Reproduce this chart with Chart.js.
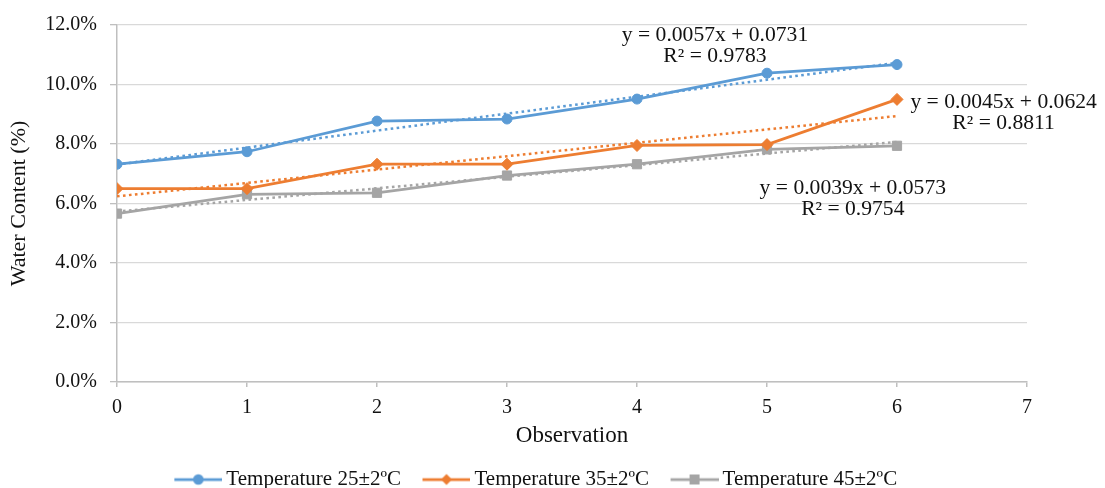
<!DOCTYPE html>
<html>
<head>
<meta charset="utf-8">
<script src="https://cdn.jsdelivr.net/npm/chart.js@4.4.1/dist/chart.umd.min.js"></script>
<style>
  html, body { margin: 0; padding: 0; background: #ffffff; overflow: hidden; width: 1105px; height: 488px; }
  canvas { display: block; }
</style>
</head>
<body>
<canvas id="chart" width="1105" height="500"></canvas>
<script>
// ---- Data ----
const observations = [0, 1, 2, 3, 4, 5, 6];
const seriesNames = ['Temperature 25±2ºC', 'Temperature 35±2ºC', 'Temperature 45±2ºC'];
const temp25 = [7.32, 7.74, 8.77, 8.84, 9.51, 10.38, 10.67];
const temp35 = [6.50, 6.50, 7.32, 7.32, 7.95, 7.98, 9.50];
const temp45 = [5.66, 6.31, 6.36, 6.94, 7.32, 7.82, 7.94];
// Trendline end points (at observation 0 and 6)
const trendX = [0, 6];
const trend25 = [7.31, 10.73];
const trend35 = [6.24, 8.94];
const trend45 = [5.73, 8.07];
const trendLabels = [
  ['y = 0.0057x + 0.0731', 'R² = 0.9783'],
  ['y = 0.0045x + 0.0624', 'R² = 0.8811'],
  ['y = 0.0039x + 0.0573', 'R² = 0.9754']
];
const yTicksMax = 12;
const yTicksStep = 2;
const xTicksMax = 7;

// ---- Styles ----
const colors = ['#5B9BD5', '#ED7D31', '#A5A5A5'];
const markers = ['circle', 'rectRot', 'rect'];
const markerRadius = [5, 6, 6.5];
const FONT = "'Liberation Serif', 'Times New Roman', serif";
const TEXT = '#111111';

function pts(xs, ys) { return xs.map((x, i) => ({ x: x, y: ys[i] })); }

function legendImage(i) {
  const c = document.createElement('canvas');
  c.width = 66; c.height = 16;
  const g = c.getContext('2d');
  g.strokeStyle = colors[i];
  g.fillStyle = colors[i];
  g.lineWidth = 2.75;
  g.beginPath(); g.moveTo(18, 8); g.lineTo(66, 8); g.stroke();
  const cx = 42, cy = 8;
  g.beginPath();
  if (markers[i] === 'circle') {
    g.arc(cx, cy, 5.3, 0, Math.PI * 2);
  } else if (markers[i] === 'rectRot') {
    g.moveTo(cx, cy - 5.5); g.lineTo(cx + 5.5, cy); g.lineTo(cx, cy + 5.5); g.lineTo(cx - 5.5, cy); g.closePath();
  } else {
    g.rect(cx - 5, cy - 5, 10, 10);
  }
  g.fill();
  return c;
}
const legendImages = [0, 1, 2].map(legendImage);

const seriesData = [temp25, temp35, temp45];
const trendData = [trend25, trend35, trend45];

const datasets = [];
seriesData.forEach((vals, i) => {
  datasets.push({
    label: seriesNames[i],
    data: pts(observations, vals),
    borderColor: colors[i],
    backgroundColor: colors[i],
    borderWidth: 2.75,
    pointStyle: markers[i],
    pointRadius: markerRadius[i],
    pointHoverRadius: markerRadius[i],
    pointBackgroundColor: colors[i],
    pointBorderColor: colors[i],
    pointBorderWidth: 1,
    tension: 0,
    fill: false
  });
});
trendData.forEach((vals, i) => {
  datasets.push({
    label: 'trend ' + seriesNames[i],
    data: pts(trendX, vals),
    borderColor: colors[i],
    borderWidth: 2.5,
    borderDash: [2.6, 3.4],
    pointRadius: 0,
    pointHoverRadius: 0,
    tension: 0,
    fill: false
  });
});

const annotationPlugin = {
  id: 'trendText',
  afterDatasetsDraw(chart, args, opts) {
    const ctx = chart.ctx;
    const xs = chart.scales.x, ys = chart.scales.y;
    ctx.save();
    ctx.font = opts.size + 'px ' + FONT;
    ctx.fillStyle = TEXT;
    ctx.textAlign = 'center';
    ctx.textBaseline = 'middle';
    opts.positions.forEach((p, i) => {
      const cx = xs.getPixelForValue(p.x);
      const cy = ys.getPixelForValue(p.y);
      trendLabels[i].forEach((line, k) => {
        ctx.save();
        ctx.translate(cx, cy + k * opts.lineGap);
        ctx.scale(opts.stretch, 1);
        ctx.fillText(line, 0, 0);
        ctx.restore();
      });
    });
    ctx.restore();
  }
};

const legendShift = {
  id: 'legendShift',
  afterLayout(chart, args, opts) {
    if (chart.legend) {
      chart.legend.left = opts.left;
      chart.legend.right = opts.right;
    }
  }
};

new Chart(document.getElementById('chart'), {
  type: 'line',
  data: { datasets: datasets },
  plugins: [annotationPlugin, legendShift],
  options: {
    responsive: false,
    animation: false,
    devicePixelRatio: 1,
    layout: { padding: { top: 20, right: 78, left: 0, bottom: 0 } },
    plugins: {
      tooltip: { enabled: false },
      title: { display: false },
      legendShift: { left: 0, right: 1060 },
      trendText: {
        size: 20,
        stretch: 1.08,
        lineGap: 21,
        positions: [
          { x: 4.60, y: 11.63 },
          { x: 6.82, y: 9.40 },
          { x: 5.66, y: 6.50 }
        ]
      },
      legend: {
        display: true,
        position: 'bottom',
        align: 'center',
        labels: {
          font: { family: FONT, size: 21 },
          color: TEXT,
          usePointStyle: true,
          pointStyleWidth: 53,
          boxHeight: 16,
          padding: 10,
          filter: (item) => item.datasetIndex < 3,
          generateLabels: (chart) => {
            const items = Chart.defaults.plugins.legend.labels.generateLabels(chart);
            items.forEach((it) => {
              if (it.datasetIndex < 3) it.pointStyle = legendImages[it.datasetIndex];
            });
            return items;
          }
        }
      }
    },
    scales: {
      x: {
        type: 'linear',
        min: 0,
        max: xTicksMax,
        afterFit: (scale) => {
          const lh = scale.chart.legend ? scale.chart.legend.height : 0;
          scale.height = 500 - 382 - lh;
        },
        ticks: {
          stepSize: 1,
          font: { family: FONT, size: 20 },
          color: TEXT,
          padding: 9,
          maxRotation: 0
        },
        grid: {
          display: true,
          drawOnChartArea: false,
          drawTicks: true,
          tickLength: 5,
          color: '#bfbfbf',
          lineWidth: 1.5
        },
        border: { display: true, color: '#bfbfbf', width: 1.5 },
        title: {
          display: true,
          text: 'Observation',
          font: { family: FONT, size: 23 },
          color: TEXT,
          padding: { top: 0, bottom: 9 }
        }
      },
      y: {
        min: 0,
        max: yTicksMax,
        afterFit: (scale) => { scale.width = 117; },
        ticks: {
          stepSize: yTicksStep,
          font: { family: FONT, size: 20 },
          color: TEXT,
          padding: 13,
          callback: (v) => Number(v).toFixed(1) + '%'
        },
        grid: {
          color: '#d9d9d9',
          lineWidth: 1.3,
          tickLength: 7,
          tickColor: '#bfbfbf'
        },
        border: { display: true, color: '#bfbfbf', width: 1.5 },
        title: {
          display: true,
          text: 'Water Content (%)',
          font: { family: FONT, size: 22 },
          color: TEXT,
          padding: { top: 6, bottom: 0 }
        }
      }
    }
  }
});
</script>
</body>
</html>
